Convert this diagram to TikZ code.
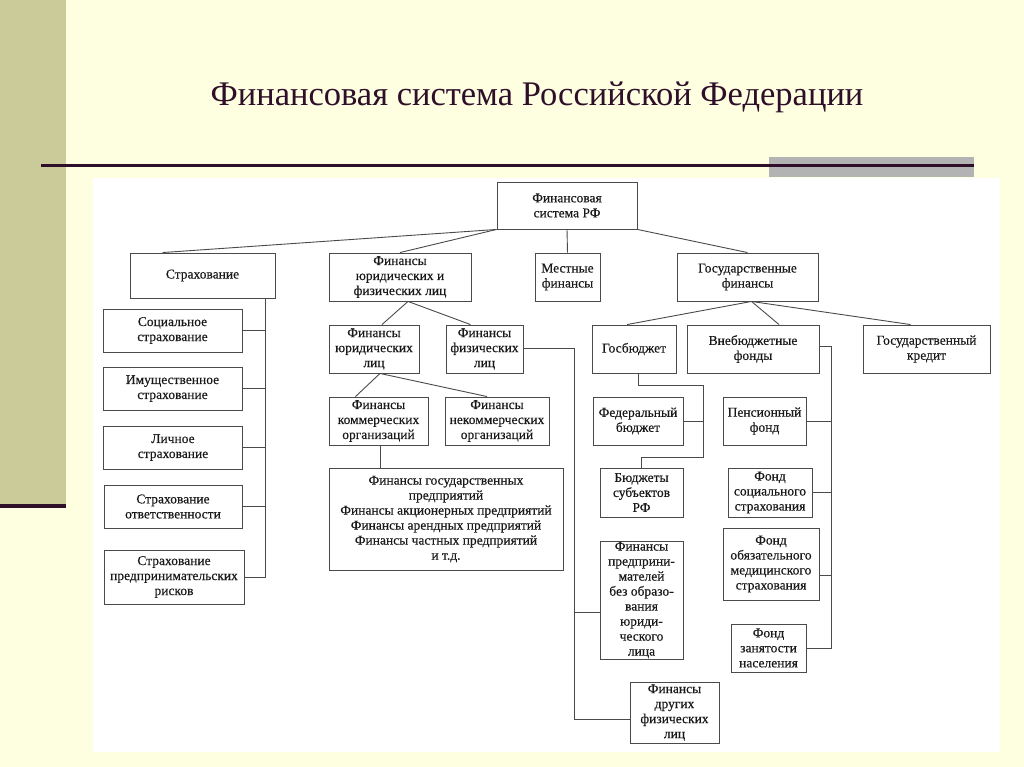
\documentclass[tikz,border=0pt]{standalone}
\usepackage{fontspec}
\setmainfont{Liberation Serif}
\newfontfamily\boxfont[FakeBold=0.35]{Liberation Serif}
\usetikzlibrary{calc}
\definecolor{slide}{HTML}{FEFEE1}
\definecolor{olive}{HTML}{CBCB9A}
\definecolor{plum}{HTML}{2E0E29}
\definecolor{band}{HTML}{B3B3B3}
\definecolor{wire}{HTML}{4A4A4A}
\def\fs{\boxfont\fontsize{13.5}{15}\selectfont}
\def\ts{\fontsize{34.5}{38}\selectfont}

\begin{document}
\begin{tikzpicture}[x=1pt,y=-1pt,
    box/.style={draw=wire,line width=0.9pt,fill=white,align=center,inner sep=0pt,font=\fs,text=black!90},
    link/.style={draw=wire,line width=0.9pt}]
    \useasboundingbox (0,0) rectangle (1024,767);
    \begin{scope}
        \fill[slide] (0,0) rectangle (1024,767);
        \fill[olive] (0,0) rectangle (66,504);
        \fill[plum] (0,504) rectangle (66,508);
        \fill[band] (769,157) rectangle (974,177);
        \fill[plum] (41,164.5) rectangle (974,167.5);
        \fill[white] (93,178) rectangle (1000,752);
        \node[font=\ts,text=plum] (T) at (537,97) {Финансовая система Российской Федерации};
    \end{scope}

    \node[box,minimum width=140,minimum height=47] (R) at (567,205.5) {Финансовая\\система РФ};

    \node[box,minimum width=145,minimum height=45] (S) at (202.5,275.5) {Страхование};
    \node[box,minimum width=142,minimum height=48] (FJF) at (400,277) {Финансы\\юридических и\\физических лиц};
    \node[box,minimum width=65,minimum height=48] (M) at (567.5,277) {Местные\\финансы};
    \node[box,minimum width=141,minimum height=48] (G) at (747.5,277) {Государственные\\финансы};
    \draw[link] (R.south west) -- ($(S.north west)+(33,0)$);
    \draw[link] (R.south west) -- (FJF.north);
    \draw[link] (R.south) -- (M.north);
    \draw[link] (R.south east) -- (G.north);

    \node[box,minimum width=139,minimum height=43] (S1) at (172.5,330.5) {Социальное\\страхование};
    \node[box,minimum width=139,minimum height=43] (S2) at (172.5,388.5) {Имущественное\\страхование};
    \node[box,minimum width=139,minimum height=43] (S3) at (173,447.5) {Личное\\страхование};
    \node[box,minimum width=138,minimum height=43] (S4) at (173,506.5) {Страхование\\ответственности};
    \node[box,minimum width=140,minimum height=54] (S5) at (174,577) {Страхование\\предпринимательских\\рисков};
    \draw[link] ($(S.south east)+(-10,0)$) coordinate (sv) |- (S5.east);
    \foreach \b in {S1,S2,S3,S4}
        \draw[link] (\b.east) -- (\b.east -| sv);

    \node[box,minimum width=90,minimum height=48] (FJ) at (374,349) {Финансы\\юридических\\лиц};
    \node[box,minimum width=77,minimum height=48] (FF) at (484.5,349) {Финансы\\физических\\лиц};
    \draw[link] ($(FJF.south)+(8,0)$) -- ($(FJ.north)+(8,0)$);
    \draw[link] ($(FJF.south)+(8,0)$) -- ($(FF.north)+(-14,0)$);
    \node[box,minimum width=99,minimum height=48] (FK) at (378.5,421) {Финансы\\коммерческих\\организаций};
    \node[box,minimum width=104,minimum height=48] (FN) at (497,421) {Финансы\\некоммерческих\\организаций};
    \draw[link] ($(FJ.south)+(6,0)$) -- ($(FK.north)+(-23,0)$);
    \draw[link] ($(FJ.south)+(6,0)$) -- ($(FN.north)+(-10,0)$);
    \node[box,minimum width=234,minimum height=102] (FG) at (446,519) {Финансы государственных\\предприятий\\Финансы акционерных предприятий\\Финансы арендных предприятий\\Финансы частных предприятий\\и т.д.};
    \draw[link] ($(FK.south)+(2,0)$) -- ($(FK.south |- FG.north)+(2,0)$);

    \node[box,minimum width=84,minimum height=48] (GB) at (634,349) {Госбюджет};
    \node[box,minimum width=132,minimum height=48] (VF) at (753,349) {Внебюджетные\\фонды};
    \node[box,minimum width=127,minimum height=48] (GK) at (926.5,349) {Государственный\\кредит};
    \draw[link] ($(G.south)+(4,0)$) -- ($(GB.north)+(-7,0)$);
    \draw[link] ($(G.south)+(4,0)$) -- ($(VF.north)+(26,0)$);
    \draw[link] ($(G.south)+(4,0)$) -- ($(GK.north)+(-16,0)$);

    \node[box,minimum width=90,minimum height=48] (FB) at (638,421) {Федеральный\\бюджет};
    \node[box,minimum width=83,minimum height=49] (BS) at (641.5,492.5) {Бюджеты\\субъектов\\РФ};
    \draw[link] ($(GB.south)+(4,0)$) -- ++(0,12) -| ++(65,72) coordinate (gv) -| (BS.north);
    \draw[link] (FB.east) -- (FB.east -| gv);

    \node[box,minimum width=83,minimum height=48] (PF) at (764.5,421) {Пенсионный\\фонд};
    \node[box,minimum width=84,minimum height=49] (FS) at (770,492.5) {Фонд\\социального\\страхования};
    \node[box,minimum width=96,minimum height=72] (FO) at (771,564) {Фонд\\обязательного\\медицинского\\страхования};
    \node[box,minimum width=75,minimum height=48] (FZ) at (768.5,648) {Фонд\\занятости\\населения};
    \draw[link] ($(VF.east)+(0,-3)$) -- ++(12,0) coordinate (vv) |- (FZ.east);
    \draw[link] (PF.east) -- (PF.east -| vv);
    \draw[link] (FS.east) -- (FS.east -| vv);
    \draw[link] ($(FO.east)+(0,11)$) -- ($(FO.east -| vv)+(0,11)$);

    \node[box,minimum width=83,minimum height=118] (FP) at (641.5,600) {Финансы\\предприни-\\мателей\\без образо-\\вания\\юриди-\\ческого\\лица};
    \node[box,minimum width=89,minimum height=61] (FD) at (674.5,712.5) {Финансы\\других\\физических\\лиц};
    \draw[link] ($(FF.east)+(0,-1)$) -- ++(51,0) coordinate (fv) |- ($(FD.west)+(0,6.5)$);
    \draw[link] ($(FP.west)+(0,12)$) -- ($(FP.west -| fv)+(0,12)$);
\end{tikzpicture}
\end{document}
